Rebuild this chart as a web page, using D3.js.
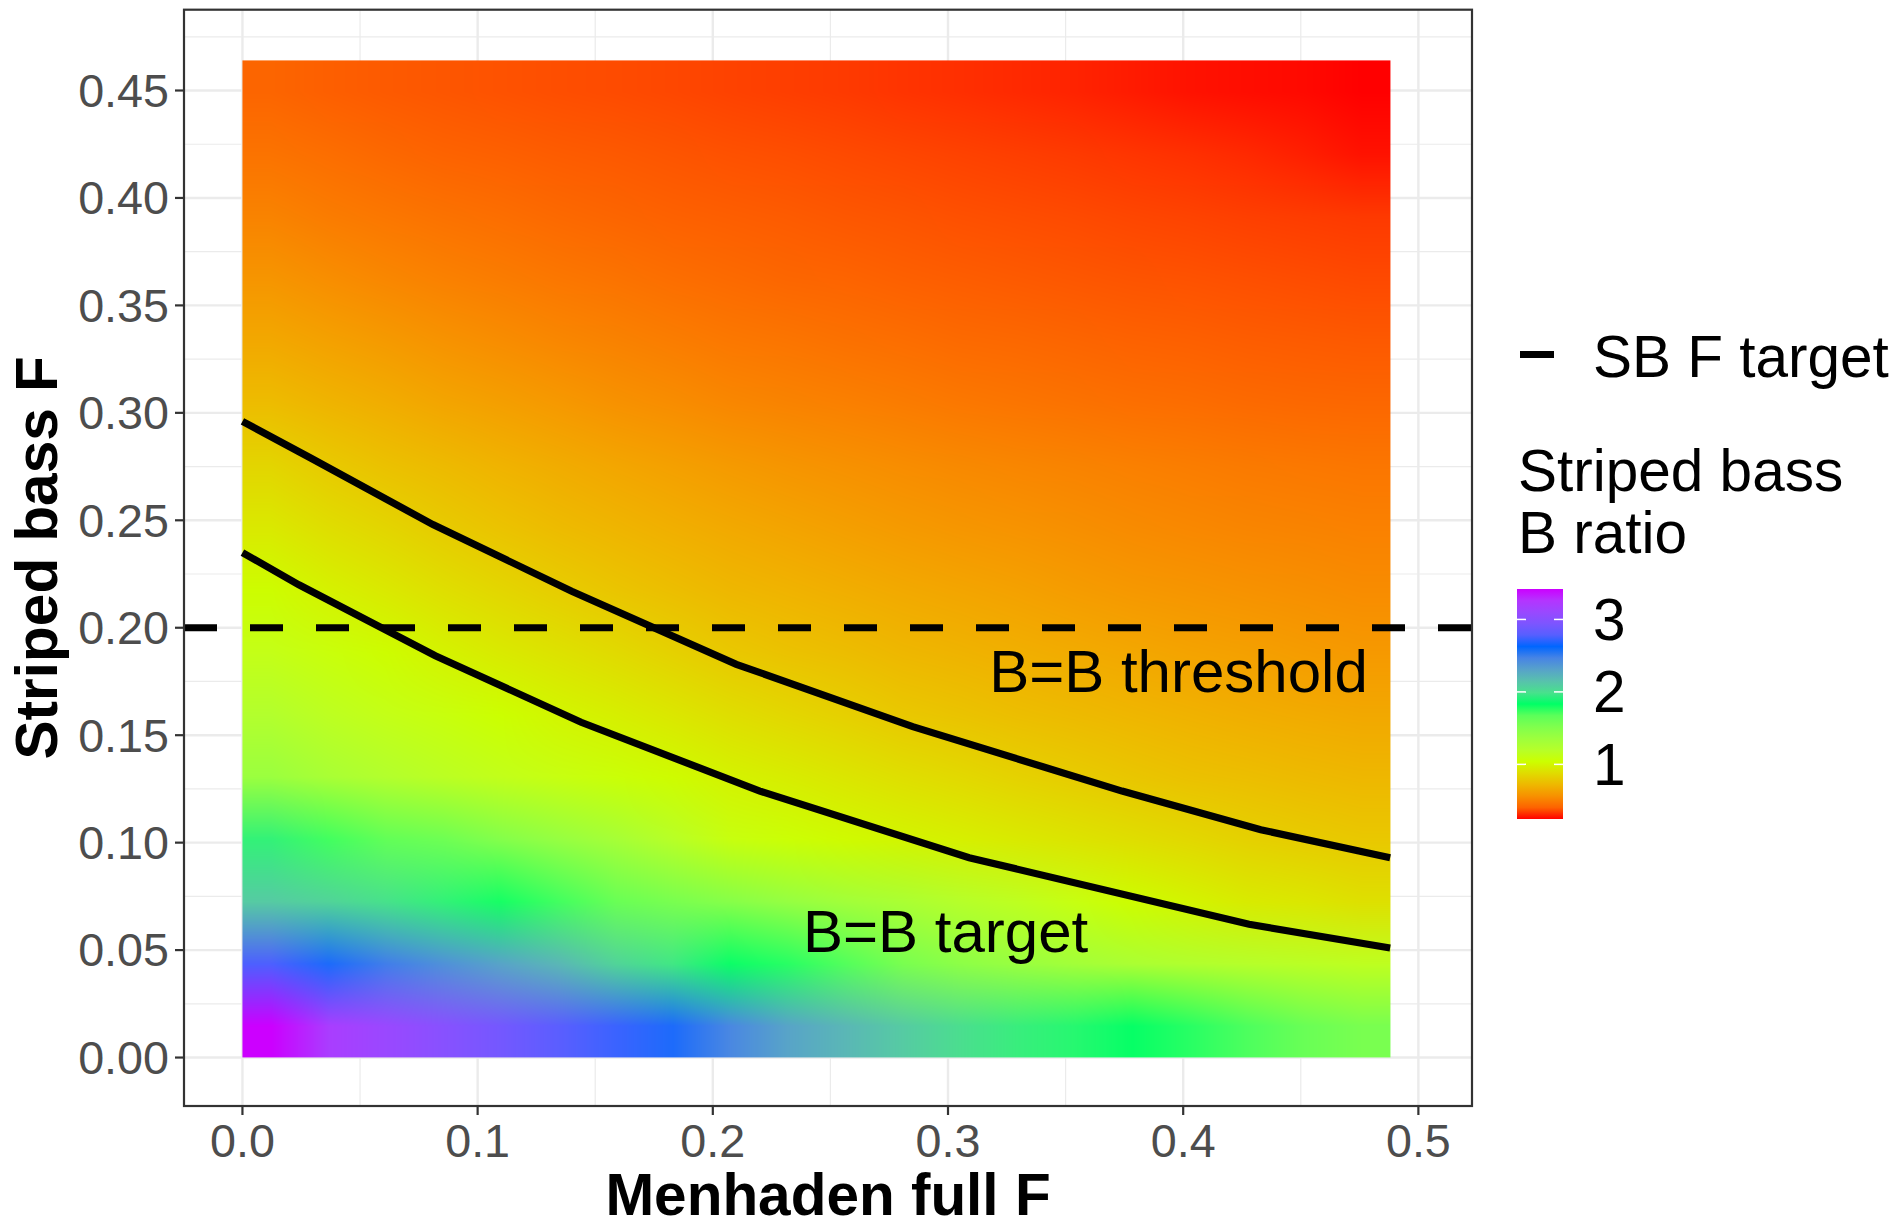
<!DOCTYPE html>
<html lang="en">
<head>
<meta charset="utf-8">
<title>Striped bass B ratio</title>
<script src="https://cdn.jsdelivr.net/npm/d3@7"></script>
<style>
  body { margin: 0; background: #fff; }
  svg { display: block; font-family: "Liberation Sans", Arial, sans-serif; }
</style>
</head>
<body>
<script>
var W = 1901, H = 1222;

// B ratio surface, one row per striped bass F cell (bottom row first),
// one value per menhaden F cell
var cellW = 0.0244, cellH = 0.029;
var bRatio = [
  [3.42, 3.2, 3.1, 3.0, 2.9, 2.8, 2.7, 2.6, 2.45, 2.3, 2.2, 2.1, 2.0, 1.92, 1.87, 1.83, 1.8, 1.72, 1.62, 1.55],
  [2.75, 2.6, 2.5, 2.4, 2.3, 2.2, 2.05, 1.95, 1.84, 1.8, 1.7, 1.55, 1.45, 1.38, 1.32, 1.27, 1.23, 1.2, 1.17, 1.14],
  [2.1, 2.05, 1.98, 1.9, 1.82, 1.75, 1.62, 1.55, 1.48, 1.4, 1.33, 1.27, 1.2, 1.14, 1.08, 1.03, 0.99, 0.95, 0.93, 0.9],
  [1.9, 1.75, 1.65, 1.6, 1.5, 1.4, 1.3, 1.18, 1.075, 1.05, 1.02, 0.995, 0.97, 0.945, 0.917, 0.89, 0.862, 0.833, 0.81, 0.79],
  [1.37, 1.28, 1.22, 1.16, 1.115, 1.08, 1.055, 1.025, 0.985, 0.957, 0.925, 0.895, 0.865, 0.837, 0.81, 0.782, 0.762, 0.746, 0.732, 0.718],
  [1.22, 1.15, 1.1, 1.07, 1.04, 1.0, 0.965, 0.928, 0.89, 0.857, 0.825, 0.793, 0.77, 0.75, 0.732, 0.712, 0.695, 0.681, 0.669, 0.656],
  [1.1, 1.065, 1.03, 0.985, 0.945, 0.907, 0.87, 0.83, 0.79, 0.767, 0.744, 0.72, 0.702, 0.685, 0.669, 0.651, 0.635, 0.621, 0.608, 0.596],
  [1.03, 0.98, 0.94, 0.895, 0.855, 0.815, 0.778, 0.748, 0.72, 0.7, 0.679, 0.659, 0.642, 0.625, 0.608, 0.592, 0.578, 0.566, 0.556, 0.545],
  [0.94, 0.89, 0.85, 0.805, 0.768, 0.737, 0.708, 0.683, 0.658, 0.639, 0.619, 0.599, 0.583, 0.57, 0.556, 0.541, 0.53, 0.52, 0.512, 0.504],
  [0.85, 0.8, 0.76, 0.73, 0.7, 0.673, 0.648, 0.623, 0.598, 0.58, 0.564, 0.547, 0.535, 0.523, 0.512, 0.501, 0.49, 0.48, 0.474, 0.466],
  [0.74, 0.707, 0.675, 0.645, 0.62, 0.593, 0.568, 0.548, 0.527, 0.513, 0.499, 0.486, 0.474, 0.463, 0.454, 0.443, 0.435, 0.428, 0.422, 0.416],
  [0.655, 0.626, 0.598, 0.571, 0.548, 0.526, 0.507, 0.49, 0.474, 0.461, 0.449, 0.438, 0.427, 0.42, 0.412, 0.403, 0.395, 0.389, 0.382, 0.376],
  [0.58, 0.552, 0.527, 0.504, 0.486, 0.47, 0.455, 0.44, 0.426, 0.415, 0.407, 0.397, 0.388, 0.38, 0.372, 0.364, 0.357, 0.35, 0.343, 0.337],
  [0.51, 0.488, 0.469, 0.452, 0.438, 0.424, 0.41, 0.4, 0.39, 0.381, 0.372, 0.363, 0.354, 0.346, 0.338, 0.33, 0.322, 0.315, 0.309, 0.303],
  [0.455, 0.438, 0.421, 0.405, 0.395, 0.384, 0.376, 0.366, 0.356, 0.347, 0.339, 0.329, 0.32, 0.312, 0.304, 0.296, 0.288, 0.278, 0.266, 0.255],
  [0.41, 0.393, 0.38, 0.368, 0.358, 0.349, 0.341, 0.331, 0.321, 0.313, 0.305, 0.295, 0.286, 0.278, 0.27, 0.262, 0.255, 0.252, 0.25, 0.246]
];

// contour lines
var threshF = [0, 0.029, 0.081, 0.140, 0.210, 0.285, 0.374, 0.433, 0.488];
var threshSB = [0.296, 0.279, 0.248, 0.217, 0.183, 0.154, 0.124, 0.106, 0.093];
var targetF = [0, 0.024, 0.082, 0.144, 0.220, 0.309, 0.428, 0.488];
var targetSB = [0.235, 0.220, 0.187, 0.156, 0.124, 0.093, 0.062, 0.051];
var sbFTarget = 0.2;

var labels = [
  { text: "B=B threshold", f: 0.398, sb: 0.18 },
  { text: "B=B target", f: 0.299, sb: 0.059 }
];

var xTicks = [0, 0.1, 0.2, 0.3, 0.4, 0.5];
var xMinor = [0.05, 0.15, 0.25, 0.35, 0.45];
var yTicks = [0, 0.05, 0.1, 0.15, 0.2, 0.25, 0.3, 0.35, 0.4, 0.45];
var yMinor = [0.025, 0.075, 0.125, 0.175, 0.225, 0.275, 0.325, 0.375, 0.425, 0.475];
var legendTicks = [1, 2, 3];
var rampColours = ["#FF0000", "#CCFF00", "#00FF66", "#0066FF", "#CC00FF"];

var svg = d3.select("body").append("svg")
    .attr("width", W)
    .attr("height", H);

var x = d3.scaleLinear().domain([-0.02485, 0.5228]).range([184, 1472]);
var y = d3.scaleLinear().domain([-0.02255, 0.4876]).range([1106, 9.7]);

var allVals = [].concat.apply([], bRatio);
var ext = d3.extent(allVals);
var colour = d3.scaleLinear()
    .domain(rampColours.map(function (d, i) { return ext[0] + i * (ext[1] - ext[0]) / (rampColours.length - 1); }))
    .range(rampColours)
    .interpolate(d3.interpolateLab);

var pl = x.range()[0], pr = x.range()[1], pb = y.range()[0], pt = y.range()[1];

// grid
var grid = svg.append("g");
grid.selectAll(".xminor").data(xMinor).enter().append("line")
    .attr("x1", function (d) { return x(d); }).attr("x2", function (d) { return x(d); })
    .attr("y1", pt).attr("y2", pb)
    .attr("stroke", "#EBEBEB").attr("stroke-width", 1.2);
grid.selectAll(".yminor").data(yMinor).enter().append("line")
    .attr("y1", function (d) { return y(d); }).attr("y2", function (d) { return y(d); })
    .attr("x1", pl).attr("x2", pr)
    .attr("stroke", "#EBEBEB").attr("stroke-width", 1.2);
grid.selectAll(".xmajor").data(xTicks).enter().append("line")
    .attr("x1", function (d) { return x(d); }).attr("x2", function (d) { return x(d); })
    .attr("y1", pt).attr("y2", pb)
    .attr("stroke", "#EBEBEB").attr("stroke-width", 2.4);
grid.selectAll(".ymajor").data(yTicks).enter().append("line")
    .attr("y1", function (d) { return y(d); }).attr("y2", function (d) { return y(d); })
    .attr("x1", pl).attr("x2", pr)
    .attr("stroke", "#EBEBEB").attr("stroke-width", 2.4);

// raster, interpolated between cell centres like an interpolated raster
var nRows = bRatio.length, nCols = bRatio[0].length;
var rx0 = x(0), rx1 = x(cellW * nCols), ry0 = y(cellH * nRows), ry1 = y(0);
var rw = Math.round(rx1 - rx0), rh = Math.round(ry1 - ry0);
var cells = bRatio.map(function (row) {
  return row.map(function (v) { return d3.rgb(colour(v)); });
});
var canvas = document.createElement("canvas");
canvas.width = rw; canvas.height = rh;
var ctx = canvas.getContext("2d");
var img = ctx.createImageData(rw, rh);
for (var py = 0; py < rh; py++) {
  var v = (rh - py - 0.5) / rh * nRows - 0.5;
  v = Math.max(0, Math.min(nRows - 1, v));
  var r0 = Math.min(Math.floor(v), nRows - 2), fr = v - r0;
  for (var px = 0; px < rw; px++) {
    var u = (px + 0.5) / rw * nCols - 0.5;
    u = Math.max(0, Math.min(nCols - 1, u));
    var c0 = Math.min(Math.floor(u), nCols - 2), fc = u - c0;
    var a = cells[r0][c0], b = cells[r0][c0 + 1], c = cells[r0 + 1][c0], e = cells[r0 + 1][c0 + 1];
    var k = (py * rw + px) * 4;
    img.data[k] = (a.r * (1 - fc) + b.r * fc) * (1 - fr) + (c.r * (1 - fc) + e.r * fc) * fr;
    img.data[k + 1] = (a.g * (1 - fc) + b.g * fc) * (1 - fr) + (c.g * (1 - fc) + e.g * fc) * fr;
    img.data[k + 2] = (a.b * (1 - fc) + b.b * fc) * (1 - fr) + (c.b * (1 - fc) + e.b * fc) * fr;
    img.data[k + 3] = 255;
  }
}
ctx.putImageData(img, 0, 0);
svg.append("image")
    .attr("href", canvas.toDataURL())
    .attr("x", rx0).attr("y", ry0)
    .attr("width", rw).attr("height", rh)
    .attr("preserveAspectRatio", "none");

// contour lines
var line = d3.line().x(function (d) { return x(d[0]); }).y(function (d) { return y(d[1]); });
svg.append("path")
    .attr("d", line(d3.zip(threshF, threshSB)))
    .attr("fill", "none").attr("stroke", "#000").attr("stroke-width", 7.2);
svg.append("path")
    .attr("d", line(d3.zip(targetF, targetSB)))
    .attr("fill", "none").attr("stroke", "#000").attr("stroke-width", 7.2);

// SB F target
svg.append("line")
    .attr("x1", pl).attr("x2", pr)
    .attr("y1", y(sbFTarget)).attr("y2", y(sbFTarget))
    .attr("stroke", "#000").attr("stroke-width", 7.2)
    .attr("stroke-dasharray", "33,33");

// annotations
svg.selectAll(".lab").data(labels).enter().append("text")
    .attr("x", function (d) { return x(d.f); })
    .attr("y", function (d) { return y(d.sb); })
    .attr("dy", "0.35em")
    .attr("text-anchor", "middle")
    .attr("font-size", 60)
    .attr("fill", "#000")
    .text(function (d) { return d.text; });

// panel border
svg.append("rect")
    .attr("x", pl).attr("y", pt)
    .attr("width", pr - pl).attr("height", pb - pt)
    .attr("fill", "none").attr("stroke", "#333333").attr("stroke-width", 2.2);

// axes
var xAxis = svg.append("g");
xAxis.selectAll("line").data(xTicks).enter().append("line")
    .attr("x1", function (d) { return x(d); }).attr("x2", function (d) { return x(d); })
    .attr("y1", pb).attr("y2", pb + 9)
    .attr("stroke", "#333333").attr("stroke-width", 2.2);
xAxis.selectAll("text").data(xTicks).enter().append("text")
    .attr("x", function (d) { return x(d); })
    .attr("y", 1157)
    .attr("text-anchor", "middle")
    .attr("font-size", 46.7)
    .attr("fill", "#4D4D4D")
    .text(function (d) { return d3.format(".1f")(d); });

var yAxis = svg.append("g");
yAxis.selectAll("line").data(yTicks).enter().append("line")
    .attr("y1", function (d) { return y(d); }).attr("y2", function (d) { return y(d); })
    .attr("x1", pl - 9).attr("x2", pl)
    .attr("stroke", "#333333").attr("stroke-width", 2.2);
yAxis.selectAll("text").data(yTicks).enter().append("text")
    .attr("x", 169)
    .attr("y", function (d) { return y(d); })
    .attr("dy", "0.35em")
    .attr("text-anchor", "end")
    .attr("font-size", 46.7)
    .attr("fill", "#4D4D4D")
    .text(function (d) { return d3.format(".2f")(d); });

svg.append("text")
    .attr("x", (pl + pr) / 2).attr("y", 1215)
    .attr("text-anchor", "middle")
    .attr("font-size", 58.5).attr("font-weight", "bold")
    .text("Menhaden full F");
svg.append("text")
    .attr("transform", "translate(57," + ((pt + pb) / 2) + ") rotate(-90)")
    .attr("text-anchor", "middle")
    .attr("font-size", 58.5).attr("font-weight", "bold")
    .text("Striped bass F");

// legend: line key
svg.append("line")
    .attr("x1", 1520).attr("x2", 1554)
    .attr("y1", 354.5).attr("y2", 354.5)
    .attr("stroke", "#000").attr("stroke-width", 7.2);
svg.append("text")
    .attr("x", 1593).attr("y", 376.5)
    .attr("font-size", 58.5)
    .text("SB F target");

// legend: colour bar
svg.append("text").attr("x", 1518).attr("y", 491).attr("font-size", 58.5).text("Striped bass");
svg.append("text").attr("x", 1518).attr("y", 553).attr("font-size", 58.5).text("B ratio");

var barX = 1517, barW = 46, barTop = 589, barBottom = 819;
var ly = d3.scaleLinear().domain(ext).range([barBottom, barTop]);
var grad = svg.append("defs").append("linearGradient")
    .attr("id", "bar").attr("x1", 0).attr("y1", 1).attr("x2", 0).attr("y2", 0);
grad.selectAll("stop").data(d3.range(0, 1.0001, 0.05)).enter().append("stop")
    .attr("offset", function (d) { return d; })
    .attr("stop-color", function (d) { return colour(ext[0] + d * (ext[1] - ext[0])); });
svg.append("rect")
    .attr("x", barX).attr("y", barTop)
    .attr("width", barW).attr("height", barBottom - barTop)
    .attr("fill", "url(#bar)");
var lt = svg.append("g");
lt.selectAll(".tl").data(legendTicks).enter().append("line")
    .attr("x1", barX).attr("x2", barX + 9)
    .attr("y1", function (d) { return ly(d); }).attr("y2", function (d) { return ly(d); })
    .attr("stroke", "#fff").attr("stroke-width", 1.5);
lt.selectAll(".tr").data(legendTicks).enter().append("line")
    .attr("x1", barX + barW - 9).attr("x2", barX + barW)
    .attr("y1", function (d) { return ly(d); }).attr("y2", function (d) { return ly(d); })
    .attr("stroke", "#fff").attr("stroke-width", 1.5);
lt.selectAll("text").data(legendTicks).enter().append("text")
    .attr("x", 1593)
    .attr("y", function (d) { return ly(d); })
    .attr("dy", "0.35em")
    .attr("font-size", 58.5)
    .text(function (d) { return d; });
</script>
</body>
</html>
